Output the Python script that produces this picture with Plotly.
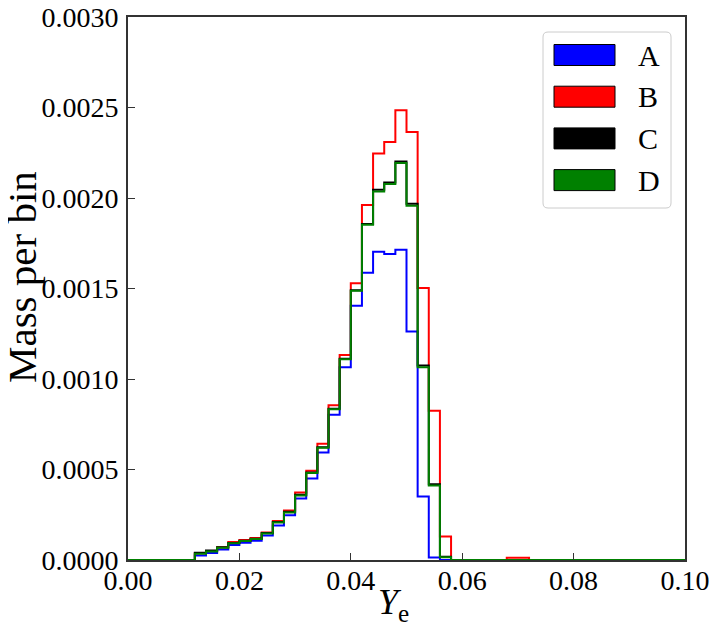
"""Istogrammi a gradini della massa per bin in funzione di Y_e."""

import numpy as np
import plotly.graph_objects as go

# ---------------------------------------------------------------------------
# Dati: 50 bin di ampiezza 0.002 tra 0 e 0.1
# ---------------------------------------------------------------------------

bin_width = 0.002
n_bins = 50

series_names = ["A", "B", "C", "D"]
series_colors = ["#0000ff", "#ff0000", "#000000", "#008000"]

mass_A = [
    0, 0, 0, 0, 0, 0,
    0.000025, 0.000039, 0.000058, 0.000083, 0.000095, 0.000107, 0.000136,
    0.000191, 0.000247, 0.000340, 0.000450, 0.000594, 0.000802, 0.001065,
    0.001405, 0.001587, 0.001703, 0.001690, 0.001714, 0.001262, 0.000351,
    0.000014, 0,
    0, 0, 0, 0, 0, 0, 0, 0, 0, 0, 0, 0, 0, 0, 0, 0, 0, 0, 0, 0, 0, 0,
]

mass_B = [
    0, 0, 0, 0, 0, 0,
    0.000037, 0.000050, 0.000070, 0.000099, 0.000110, 0.000121, 0.000152,
    0.000215, 0.000274, 0.000373, 0.000493, 0.000642, 0.000855, 0.001133,
    0.001529, 0.001961, 0.002246, 0.002310, 0.002485, 0.002364, 0.001503,
    0.000824, 0.000130,
    0, 0, 0, 0, 0, 0.000013, 0.000013, 0, 0, 0, 0, 0, 0, 0, 0, 0, 0, 0, 0, 0, 0, 0,
]

mass_C = [
    0, 0, 0, 0, 0, 0,
    0.000040, 0.000053, 0.000070, 0.000094, 0.000107, 0.000118, 0.000149,
    0.000210, 0.000266, 0.000360, 0.000483, 0.000623, 0.000836, 0.001112,
    0.001491, 0.001856, 0.002045, 0.002086, 0.002202, 0.001968, 0.001074,
    0.000419, 0.000018,
    0, 0, 0, 0, 0, 0, 0, 0, 0, 0, 0, 0, 0, 0, 0, 0, 0, 0, 0, 0, 0, 0,
]

mass_D = [
    0, 0, 0, 0, 0, 0,
    0.000035, 0.000047, 0.000068, 0.000092, 0.000105, 0.000116, 0.000147,
    0.000207, 0.000263, 0.000357, 0.000480, 0.000620, 0.000833, 0.001109,
    0.001488, 0.001852, 0.002036, 0.002078, 0.002193, 0.001957, 0.001065,
    0.000412, 0.000015,
    0, 0, 0, 0, 0, 0, 0, 0, 0, 0, 0, 0, 0, 0, 0, 0, 0, 0, 0, 0, 0, 0,
]

all_series = [mass_A, mass_B, mass_C, mass_D]

x_ticks = [0.00, 0.02, 0.04, 0.06, 0.08, 0.10]
y_ticks = [0.0000, 0.0005, 0.0010, 0.0015, 0.0020, 0.0025, 0.0030]

# ---------------------------------------------------------------------------
# Figura
# ---------------------------------------------------------------------------

FONT = "Liberation Serif"
AXIS_COLOR = "#333333"

# la pagina HTML ha 8px di margine sul body: compenso
OFF = 8
W, H = 717 - OFF, 638 - OFF
ML, MR, MT, MB = 128 - OFF, 32, 17 - OFF, 78
pw, ph = W - ML - MR, H - MT - MB

bin_edges = np.round(np.arange(n_bins + 1) * bin_width, 4)

fig = go.Figure()
for name, color, values in zip(series_names, series_colors, all_series):
    fig.add_trace(
        go.Scatter(
            x=bin_edges,
            y=list(values) + [0],
            mode="lines",
            line=dict(color=color, width=2, shape="hv"),
            name=name,
            showlegend=False,
        )
    )


def px_x(px):
    # px = coordinata in pixel della pagina
    return (px - OFF - ML) / pw


def px_y(py):
    return (H - MB - (py - OFF)) / ph


def rounded_rect(x0, y0, x1, y1, r=5):
    pts = [
        f"M{px_x(x0 + r)},{px_y(y0)}",
        f"L{px_x(x1 - r)},{px_y(y0)}",
        f"Q{px_x(x1)},{px_y(y0)} {px_x(x1)},{px_y(y0 + r)}",
        f"L{px_x(x1)},{px_y(y1 - r)}",
        f"Q{px_x(x1)},{px_y(y1)} {px_x(x1 - r)},{px_y(y1)}",
        f"L{px_x(x0 + r)},{px_y(y1)}",
        f"Q{px_x(x0)},{px_y(y1)} {px_x(x0)},{px_y(y1 - r)}",
        f"L{px_x(x0)},{px_y(y0 + r)}",
        f"Q{px_x(x0)},{px_y(y0)} {px_x(x0 + r)},{px_y(y0)}",
        "Z",
    ]
    return " ".join(pts)


# Legenda disegnata a mano (patch rettangolari come in matplotlib)
fig.add_shape(
    type="path",
    xref="paper",
    yref="paper",
    path=rounded_rect(543, 32, 671, 208),
    line=dict(color="#cccccc", width=1),
    fillcolor="rgba(255,255,255,0.8)",
)

row_y0 = 55
row_step = 41.7
for i, (name, color) in enumerate(zip(series_names, series_colors)):
    cy = row_y0 + i * row_step
    fig.add_shape(
        type="rect",
        xref="paper",
        yref="paper",
        x0=px_x(554),
        x1=px_x(615),
        y0=px_y(cy + 10.5),
        y1=px_y(cy - 10.5),
        line=dict(color="black", width=1),
        fillcolor=color,
    )
    fig.add_annotation(
        xref="paper",
        yref="paper",
        x=px_x(636),
        y=px_y(cy),
        text=name,
        showarrow=False,
        xanchor="left",
        yanchor="middle",
        font=dict(family=FONT, size=30, color="black"),
    )

# Titoli degli assi come annotazioni
fig.add_annotation(
    xref="paper",
    yref="paper",
    x=px_x(393),
    y=px_y(604),
    text="<i>Y</i><sub>e</sub>",
    showarrow=False,
    xanchor="center",
    yanchor="middle",
    font=dict(family=FONT, size=36, color="black"),
)
fig.add_annotation(
    xref="paper",
    yref="paper",
    x=px_x(22),
    y=px_y(277),
    text="Mass per bin",
    textangle=-90,
    showarrow=False,
    xanchor="center",
    yanchor="middle",
    font=dict(family=FONT, size=41, color="black"),
)

axis_common = dict(
    showline=True,
    linecolor=AXIS_COLOR,
    linewidth=2,
    mirror=True,
    showgrid=False,
    zeroline=False,
    ticks="inside",
    ticklen=7,
    tickwidth=1,
    tickcolor=AXIS_COLOR,
    automargin=False,
    ticklabeloverflow="allow",
    tickfont=dict(family=FONT, size=28, color="black"),
)

fig.update_xaxes(
    range=[0, 0.1],
    tickvals=x_ticks,
    tickformat=".2f",
    ticklabelstandoff=-6,
    **axis_common,
)
fig.update_yaxes(
    range=[0, 0.003],
    tickvals=y_ticks,
    tickformat=".4f",
    ticklabelstandoff=2,
    **axis_common,
)

fig.update_layout(
    width=W,
    height=H,
    margin=dict(l=ML, r=MR, t=MT, b=MB),
    paper_bgcolor="white",
    plot_bgcolor="white",
    showlegend=False,
)

fig.write_html("out.html")
